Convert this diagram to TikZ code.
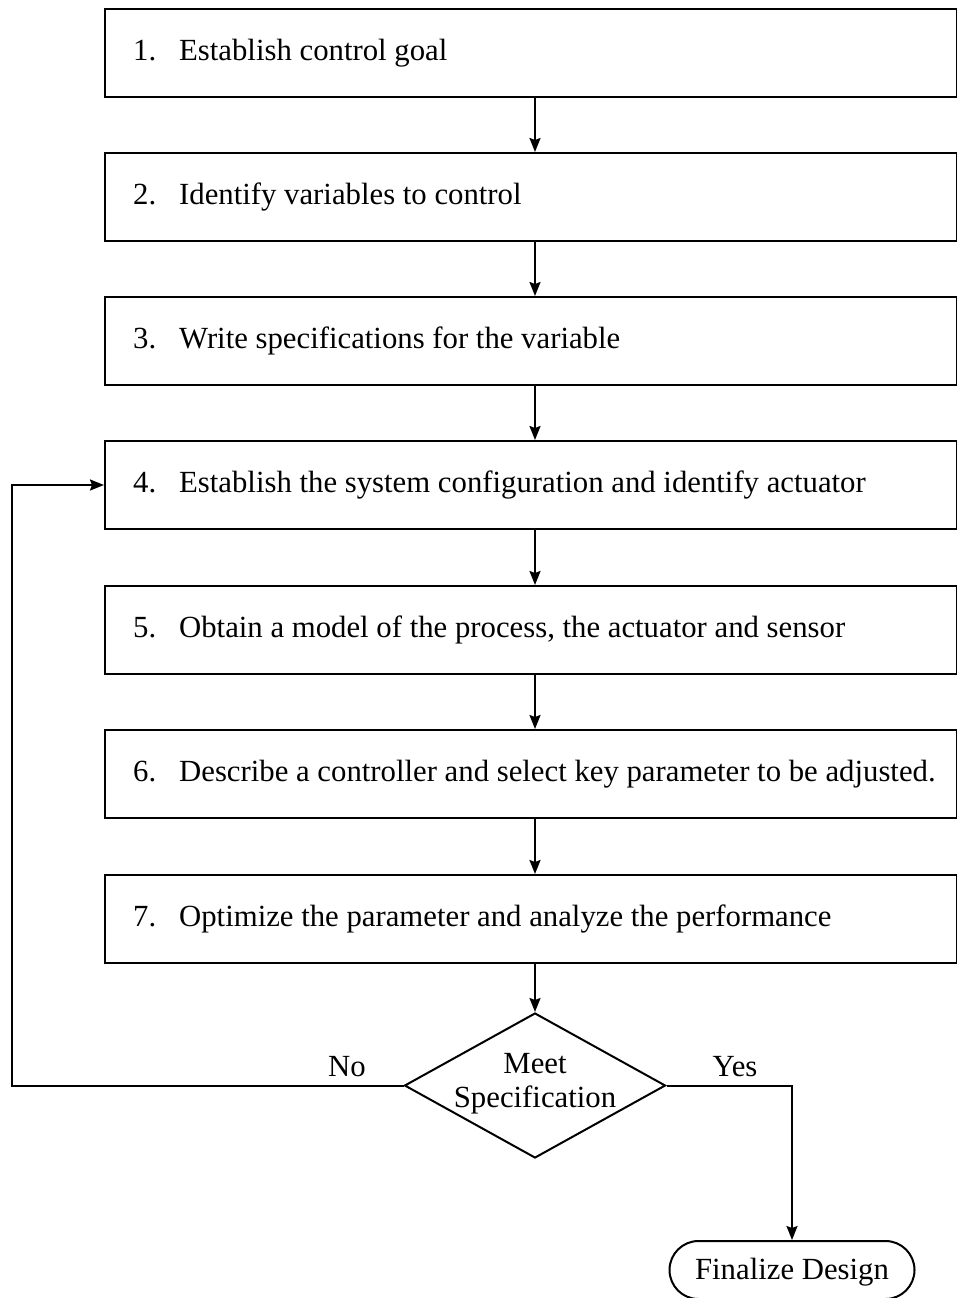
\documentclass[tikz,border=0pt]{standalone}
\usepackage{fontspec}
\setmainfont{Liberation Serif}
\usetikzlibrary{arrows.meta,shapes.geometric}
\begin{document}
\begin{tikzpicture}[x=1pt,y=1pt,
  every node/.style={font=\fontsize{30.75}{34}\selectfont},
  stepbox/.style={draw,line width=2pt,rectangle,minimum width=852,minimum height=88,
    inner sep=0,anchor=north west},
  steptext/.style={anchor=west,inner sep=0},
  decision/.style={draw,line width=2pt,diamond,minimum width=261,minimum height=145,
    aspect=1.8,inner sep=0},
  terminal/.style={draw,line width=2pt,rectangle,rounded corners=29,minimum width=245,
    minimum height=58,inner sep=0},
  flow/.style={line width=2pt,-{Stealth[length=14pt,width=11pt,inset=2pt]}}]
\useasboundingbox (0,0) rectangle (956,-1298);
\newcommand{\stepnum}[1]{\makebox[46pt][l]{#1}}
% process steps: frames
\node[stepbox] (b1) at (104,-8)   {};
\node[stepbox] (b2) at (104,-152) {};
\node[stepbox] (b3) at (104,-296) {};
\node[stepbox] (b4) at (104,-440) {};
\node[stepbox] (b5) at (104,-585) {};
\node[stepbox] (b6) at (104,-729) {};
\node[stepbox] (b7) at (104,-874) {};
% process steps: wording
\node[steptext] (t1) at ([xshift=29pt]b1.west) {\stepnum{1.}Establish control goal};
\node[steptext] (t2) at ([xshift=29pt]b2.west) {\stepnum{2.}Identify variables to control};
\node[steptext] (t3) at ([xshift=29pt]b3.west) {\stepnum{3.}Write specifications for the variable};
\node[steptext] (t4) at ([xshift=29pt]b4.west) {\stepnum{4.}Establish the system configuration and identify actuator};
\node[steptext] (t5) at ([xshift=29pt]b5.west) {\stepnum{5.}Obtain a model of the process, the actuator and sensor};
\node[steptext] (t6) at ([xshift=29pt]b6.west) {\stepnum{6.}Describe a controller and select key parameter to be adjusted.};
\node[steptext] (t7) at ([xshift=29pt]b7.west) {\stepnum{7.}Optimize the parameter and analyze the performance};
% decision and end
\node[decision] (d) at (535,-1085.5) {};
\node[align=center,inner sep=0] (dt) at (535,-1084) {Meet\\Specification};
\node[terminal] (fin) at (792,-1270) {};
\node[inner sep=0] (ft) at (792,-1272) {Finalize Design};
\node (no) at (347,-1067) {No};
\node (yes) at (735,-1067) {Yes};
% connectors
\foreach \a/\b in {b1/b2,b2/b3,b3/b4,b4/b5,b5/b6,b6/b7}
  \draw[flow] (\a.south -| 535,0) -- (\b.north -| 535,0);
\draw[flow] (b7.south -| 535,0) -- (d.north);
\coordinate (lc) at (12,-1085.5);
\draw[flow] (d.west) -- (lc) |- (b4.west);
\draw[flow] (d.east) -| (fin.north);
\end{tikzpicture}
\end{document}
